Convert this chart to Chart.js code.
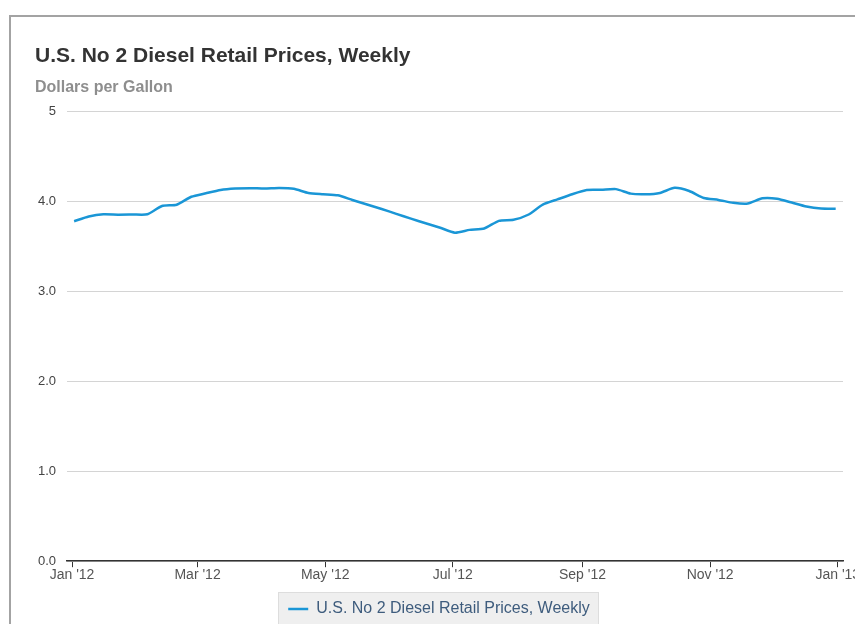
<!DOCTYPE html>
<html>
<head>
<meta charset="utf-8">
<title>U.S. No 2 Diesel Retail Prices, Weekly</title>
<script src="https://cdn.jsdelivr.net/npm/chart.js@4.4.0/dist/chart.umd.min.js"></script>
<style>
    html, body { margin: 0; padding: 0; background: #fff; overflow: hidden; }
    #frame {
        position: absolute; left: 9px; top: 15px;
        width: 1000px; height: 800px;
        border: 2px solid #a3a3a3;
    }
    #chart { position: absolute; left: 0; top: 0; }
</style>
</head>
<body>
<div id="frame"></div>
<canvas id="chart" width="900" height="631"></canvas>
<script>
// =====================
// DATA
// =====================

const weekDates = [
    '2012-01-02', '2012-01-09', '2012-01-16', '2012-01-23', '2012-01-30',
    '2012-02-06', '2012-02-13', '2012-02-20', '2012-02-27',
    '2012-03-05', '2012-03-12', '2012-03-19', '2012-03-26',
    '2012-04-02', '2012-04-09', '2012-04-16', '2012-04-23', '2012-04-30',
    '2012-05-07', '2012-05-14', '2012-05-21', '2012-05-28',
    '2012-06-04', '2012-06-11', '2012-06-18', '2012-06-25',
    '2012-07-02', '2012-07-09', '2012-07-16', '2012-07-23', '2012-07-30',
    '2012-08-06', '2012-08-13', '2012-08-20', '2012-08-27',
    '2012-09-03', '2012-09-10', '2012-09-17', '2012-09-24',
    '2012-10-01', '2012-10-08', '2012-10-15', '2012-10-22', '2012-10-29',
    '2012-11-05', '2012-11-12', '2012-11-19', '2012-11-26',
    '2012-12-03', '2012-12-10', '2012-12-17', '2012-12-24', '2012-12-31',
];

const dieselPrices = [
    3.779, 3.831, 3.856, 3.852, 3.854,
    3.856, 3.948, 3.963, 4.051,
    4.090, 4.126, 4.142, 4.147,
    4.142, 4.148, 4.139, 4.093, 4.079,
    4.067, 4.015, 3.965, 3.915,
    3.861, 3.808, 3.757, 3.707,
    3.652, 3.683, 3.699, 3.783, 3.795,
    3.851, 3.964, 4.022, 4.079,
    4.126, 4.128, 4.136, 4.086,
    4.079, 4.094, 4.150, 4.115, 4.037,
    4.016, 3.984, 3.976, 4.034,
    4.029, 3.987, 3.943, 3.920, 3.918,
];

const xTickDates = ['2012-01-01', '2012-03-01', '2012-05-01', '2012-07-01', '2012-09-01', '2012-11-01', '2013-01-01'];
const xTickLabels = ["Jan '12", "Mar '12", "May '12", "Jul '12", "Sep '12", "Nov '12", "Jan '13"];
const yTicks = [0, 1, 2, 3, 4, 5];

const seriesName = 'U.S. No 2 Diesel Retail Prices, Weekly';

// =====================
// HELPERS
// =====================

// days since Jan 1 2012, used as the linear x value
function dayOf(iso) {
    const [y, m, d] = iso.split('-').map(Number);
    return (Date.UTC(y, m - 1, d) - Date.UTC(2012, 0, 1)) / 86400000;
}

const points = weekDates.map((d, i) => ({ x: dayOf(d), y: dieselPrices[i] }));
const xTickValues = xTickDates.map(dayOf);

// grey box behind the legend
const legendBox = {
    id: 'legendBox',
    beforeDraw(chart) {
        const hb = chart.legend.legendHitBoxes[0];
        if (!hb) return;
        const ctx = chart.ctx;
        ctx.save();
        ctx.fillStyle = '#efefef';
        ctx.strokeStyle = '#dddddd';
        ctx.lineWidth = 1;
        const x = Math.round(hb.left - 10) + 0.5;
        const y = Math.round(hb.top - 9) + 0.5;
        const w = Math.round(hb.width + 18);
        const h = 32;
        ctx.fillRect(x, y, w, h);
        ctx.strokeRect(x, y, w, h);
        ctx.restore();
    },
};

// =====================
// CHART
// =====================

new Chart(document.getElementById('chart'), {
    type: 'line',
    data: {
        datasets: [{
            label: seriesName,
            data: points,
            borderColor: '#1a96d6',
            backgroundColor: '#1a96d6',
            borderWidth: 2.5,
            pointRadius: 0,
            tension: 0.2,
            fill: false,
        }],
    },
    options: {
        responsive: false,
        animation: false,
        layout: { padding: { left: 35, right: 57, top: 21, bottom: 4 } },
        plugins: {
            title: {
                display: true,
                text: 'U.S. No 2 Diesel Retail Prices, Weekly',
                align: 'start',
                color: '#333333',
                font: { family: 'Liberation Sans, Arial, sans-serif', size: 21, weight: 'bold' },
                padding: { top: 23, bottom: 0 },
            },
            subtitle: {
                display: true,
                text: 'Dollars per Gallon',
                align: 'start',
                color: '#8e8e8e',
                font: { family: 'Liberation Sans, Arial, sans-serif', size: 16, weight: 'bold' },
                padding: { top: 9, bottom: 14 },
            },
            legend: {
                position: 'bottom',
                labels: {
                    usePointStyle: true,
                    pointStyle: 'line',
                    pointStyleWidth: 20,
                    boxHeight: 12,
                    padding: 17,
                    color: '#3e5c7d',
                    font: { family: 'Liberation Sans, Arial, sans-serif', size: 16 },
                },
            },
            tooltip: { enabled: false },
        },
        scales: {
            x: {
                type: 'linear',
                min: -2.4,
                max: 368.5,
                afterBuildTicks: (scale) => {
                    scale.ticks = xTickValues.map(v => ({ value: v }));
                },
                ticks: {
                    autoSkip: false,
                    maxRotation: 0,
                    padding: 0,
                    color: '#555555',
                    font: { family: 'Liberation Sans, Arial, sans-serif', size: 14 },
                    callback: (value, index) => xTickLabels[index],
                },
                grid: {
                    display: true,
                    drawOnChartArea: false,
                    drawTicks: true,
                    tickLength: 6,
                    color: '#333333',
                    lineWidth: 1,
                },
                border: { display: true, color: '#333333', width: 1.5 },
            },
            y: {
                min: 0,
                max: 5,
                afterBuildTicks: (scale) => {
                    scale.ticks = yTicks.map(v => ({ value: v }));
                },
                afterFit: (scale) => { scale.width = 32; },
                ticks: {
                    padding: 11,
                    color: '#444444',
                    font: { family: 'Liberation Sans, Arial, sans-serif', size: 13 },
                    callback: (value) => (value === 5 ? '5' : value.toFixed(1)),
                },
                grid: { color: '#d4d4d4', lineWidth: 1, drawTicks: false },
                border: { display: false },
            },
        },
    },
    plugins: [legendBox],
});
</script>
</body>
</html>
